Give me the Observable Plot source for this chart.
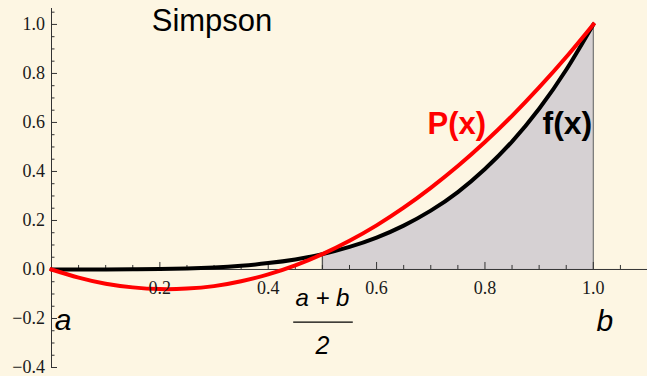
<!DOCTYPE html>
<html>
<head>
<meta charset="utf-8">
<script src="https://cdn.jsdelivr.net/npm/d3@7"></script>
<script src="https://cdn.jsdelivr.net/npm/@observablehq/plot@0.6"></script>
<style>
  html, body { margin: 0; padding: 0; background: #fdf6e3; }
  #chart svg { display: block; }
</style>
</head>
<body>
<div id="chart"></div>
<script>
// Sample abscissae on [a, b] = [0, 1]
const xs = [0, 0.05, 0.1, 0.15, 0.2, 0.25, 0.3, 0.35, 0.4, 0.45, 0.5,
            0.55, 0.6, 0.65, 0.7, 0.75, 0.8, 0.85, 0.9, 0.95, 1.0];
// f(x): the integrand (black curve)
const fValues = [0, 0, 0, 0.001, 0.002, 0.004, 0.008, 0.015, 0.026, 0.041, 0.0625,
                 0.092, 0.130, 0.179, 0.240, 0.316, 0.410, 0.522, 0.656, 0.815, 1.0];
// P(x): interpolating parabola through a, (a+b)/2, b (red curve)
const pValues = [0, -0.033, -0.058, -0.073, -0.080, -0.078, -0.068, -0.048, -0.020, 0.017, 0.0625,
                 0.117, 0.180, 0.252, 0.333, 0.422, 0.520, 0.627, 0.743, 0.867, 1.0];

// Axis ticks and their labels
const xMajor = [0.2, 0.4, 0.6, 0.8, 1.0];
const xLabels = ["0.2", "0.4", "0.6", "0.8", "1.0"];
const xMinor = [0.05, 0.1, 0.15, 0.25, 0.3, 0.35, 0.45, 0.5, 0.55, 0.65, 0.7, 0.75, 0.85, 0.9, 0.95, 1.05];
const yMajor = [-0.4, -0.2, 0, 0.2, 0.4, 0.6, 0.8, 1.0];
const yLabels = ["\u22120.4", "\u22120.2", "0.0", "0.2", "0.4", "0.6", "0.8", "1.0"];
const yMinor = [-0.35, -0.3, -0.25, -0.15, -0.1, -0.05, 0.05, 0.1, 0.15, 0.25, 0.3, 0.35,
                0.45, 0.5, 0.55, 0.65, 0.7, 0.75, 0.85, 0.9, 0.95, 1.05];

// Midpoint and right endpoint of the interval
const mid = 0.5, right = 1.0;

const curve = xs.map((x, i) => ({x, f: fValues[i], p: pValues[i]}));
const shaded = curve.filter(d => d.x >= mid);
const fAt = x => curve.find(d => d.x === x).f;

const serif = "'Liberation Serif', 'Times New Roman', serif";
const sans = "'Liberation Sans', Arial, Helvetica, sans-serif";
const ink = "#1a1a1a";
const axisColor = "#333";

const chart = Plot.plot({
  width: 647,
  height: 376,
  marginLeft: 51,
  marginRight: 0,
  marginTop: 8,
  marginBottom: 9,
  x: {domain: [0, 1.1], axis: null},
  y: {domain: [-0.4, 1.065], axis: null},
  style: {background: "#fdf6e3", overflow: "visible"},
  marks: [
    // shaded area under f on [(a+b)/2, b]
    Plot.areaY(shaded, {x: "x", y: "f", fill: "#d6d1d3", curve: "natural"}),
    Plot.ruleX([right], {x: d => d, y1: 0, y2: d => fAt(d), stroke: "#7a7a7a", strokeWidth: 1.3}),
    Plot.ruleX([mid], {x: d => d, y1: 0, y2: d => fAt(d), stroke: "#555", strokeWidth: 1.3}),

    // axes crossing at the origin
    Plot.ruleY([0], {stroke: axisColor, strokeWidth: 1}),
    Plot.ruleX([0], {stroke: axisColor, strokeWidth: 1}),
    Plot.ruleX(xMajor, {x: d => d, y1: 0, y2: 0, insetBottom: 7, stroke: axisColor}),
    Plot.ruleX(xMinor, {x: d => d, y1: 0, y2: 0, insetBottom: 4, stroke: axisColor}),
    Plot.ruleY(yMajor, {y: d => d, x1: 0, x2: 0, insetRight: -6, stroke: axisColor}),
    Plot.ruleY(yMinor, {y: d => d, x1: 0, x2: 0, insetRight: -3.5, stroke: axisColor}),

    // curves
    Plot.line(curve, {x: "x", y: "f", stroke: "black", strokeWidth: 4, curve: "natural"}),
    Plot.line(curve, {x: "x", y: "p", stroke: "#ff0000", strokeWidth: 4, curve: "natural", strokeLinecap: "square"}),

    // tick labels
    Plot.text(xMajor, {x: d => d, y: 0, text: (d, i) => xLabels[i], dy: 25, lineAnchor: "bottom",
      fontFamily: serif, fontSize: 18, fill: ink}),
    Plot.text(yMajor, {x: 0, y: d => d, text: (d, i) => yLabels[i], dx: -6.5, textAnchor: "end",
      fontFamily: serif, fontSize: 18, fill: ink}),

    // annotations
    Plot.text(["Simpson"], {x: 0.185, y: 0.973, text: d => d, textAnchor: "start", lineAnchor: "bottom",
      fontFamily: sans, fontSize: 31, fill: "black"}),
    Plot.text(["P(x)"], {x: 0.694, y: 0.551, text: d => d, textAnchor: "start", lineAnchor: "bottom",
      fontFamily: sans, fontSize: 31, fontWeight: "bold", fill: "#ff0000"}),
    Plot.text(["f(x)"], {x: 0.998, y: 0.551, text: d => d, textAnchor: "end", lineAnchor: "bottom",
      fontFamily: sans, fontSize: 32, fontWeight: "bold", fill: "black"}),
    Plot.text(["a"], {x: 0.006, y: -0.249, text: d => d, textAnchor: "start", lineAnchor: "bottom",
      fontFamily: sans, fontSize: 30, fontStyle: "italic", fill: "black"}),
    Plot.text(["b"], {x: 1.006, y: -0.252, text: d => d, textAnchor: "start", lineAnchor: "bottom",
      fontFamily: sans, fontSize: 30, fontStyle: "italic", fill: "black"}),
    Plot.text(["a + b"], {x: mid, y: -0.151, text: d => d, textAnchor: "middle", lineAnchor: "bottom",
      fontFamily: sans, fontSize: 24, fontStyle: "italic", fill: "black"}),
    Plot.ruleY([-0.215], {y: d => d, x1: 0.447, x2: 0.557, stroke: "black", strokeWidth: 1.2}),
    Plot.text(["2"], {x: mid, y: -0.343, text: d => d, textAnchor: "middle", lineAnchor: "bottom",
      fontFamily: sans, fontSize: 25, fontStyle: "italic", fill: "black"})
  ]
});

document.getElementById("chart").appendChild(chart);
</script>
</body>
</html>
